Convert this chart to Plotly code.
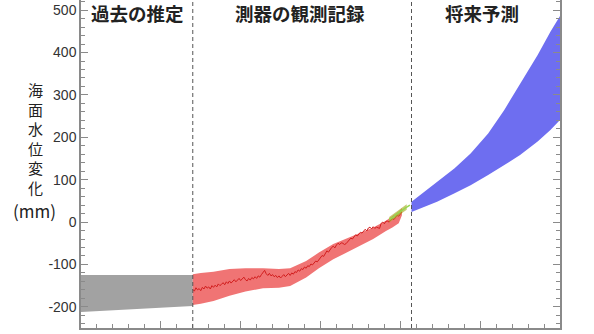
import plotly.graph_objects as go

# ---- data -------------------------------------------------------------
# Pre-instrumental estimate (grey band)
past_years = [1800, 1870]
past_upper = [-125, -125]
past_lower = [-212, -198]

# Tide-gauge reconstruction: uncertainty envelope
tg_band_years = [1870, 1875, 1883, 1893, 1903, 1914, 1924, 1931, 1941, 1949,
                 1958, 1966, 1974, 1983, 1991, 1995, 1999, 2001]
tg_band_upper = [-123, -120, -117, -111, -109, -109, -111, -109, -92, -72,
                 -52, -40, -28, -13, 3, 13, 25, 33]
tg_band_lower = [-196, -193, -186, -174, -164, -156, -155, -151, -131, -109,
                 -88, -72, -56, -40, -21, -13, -3, 16]

# Tide-gauge reconstruction: annual values
tg_years = list(range(1870, 2002))
tg_values = [
    -159, -163, -155, -160, -157, -162, -154, -158, -151, -156,   # 1870s
    -153, -158, -150, -154, -149, -153, -146, -150, -147, -143,   # 1880s
    -148, -141, -145, -139, -144, -140, -136, -141, -137, -133,   # 1890s
    -138, -134, -130, -136, -139, -133, -137, -131, -134, -129,   # 1900s
    -133, -127, -130, -124, -120, -114, -122, -126, -121, -127,   # 1910s
    -124, -129, -126, -131, -127, -132, -128, -124, -129, -125,   # 1920s
    -121, -126, -120, -123, -117, -119, -113, -116, -110, -112,   # 1930s
    -106, -109, -103, -105, -99, -101, -96, -92, -94, -88,        # 1940s
    -84, -79, -81, -74, -68, -71, -64, -60, -57, -61,             # 1950s
    -54, -50, -53, -49, -50, -53, -51, -47, -42, -38,             # 1960s
    -40, -34, -30, -33, -27, -24, -26, -20, -17, -21,             # 1970s
    -14, -12, -16, -11, -15, -12, -13, -15, -3, 0,                # 1980s
    -4, 2, 2, 0, 5, 8, 6, 12, 16, 14,                             # 1990s
    20, 24,                                                       # 2000s
]

# Satellite altimetry
sat_years = [1993, 1994, 1995, 1996, 1997, 1998, 1999, 2000, 2001, 2002,
             2003, 2004, 2005, 2006]
sat_values = [6, 8, 11, 13, 17, 20, 22, 25, 28, 31, 33, 35, 38, 40]
sat_band_years = [1993, 1996, 1999, 2002, 2004]
sat_band_upper = [12, 20, 29, 38, 42]
sat_band_lower = [-1, 6, 15, 24, 29]

# Model projections (blue band)
proj_years = [2007, 2015, 2023, 2034, 2044, 2055, 2065, 2075, 2086, 2094, 2100]
proj_upper = [48, 72, 95, 127, 162, 209, 264, 327, 394, 449, 486]
proj_lower = [24, 36, 48, 68, 87, 111, 135, 158, 190, 217, 241]

# Period boundaries and headings
boundaries = [1870, 2007]
period_names = ["過去の推定", "測器の観測記録", "将来予測"]
period_centres = [1835.5, 1937, 2051]

y_tick_vals = [-200, -100, 0, 100, 200, 300, 400, 500]
y_tick_text = ["-200", "-100", "0", "100", "200", "300", "400", "500"]
y_title_chars = ["海", "面", "水", "位", "変", "化"]
y_title_unit = "(mm)"

# ---- styling ----------------------------------------------------------
GREY = "rgb(162,162,162)"
RED_FILL = "rgb(240,116,116)"
RED_LINE = "rgb(210,30,30)"
SAT_FILL = "rgba(170,170,40,0.65)"
SAT_LINE = "rgb(150,215,80)"
BLUE = "rgb(110,110,240)"
AXIS = "#8a8a8a"
CJK = "Noto Sans CJK JP"

fig = go.Figure()


def band(xs, lo, hi, color):
    fig.add_trace(go.Scatter(x=xs, y=lo, mode="lines", line=dict(width=0),
                             hoverinfo="skip", showlegend=False))
    fig.add_trace(go.Scatter(x=xs, y=hi, mode="lines", line=dict(width=0),
                             fill="tonexty", fillcolor=color,
                             hoverinfo="skip", showlegend=False))


band(past_years, past_lower, past_upper, GREY)
band(tg_band_years, tg_band_lower, tg_band_upper, RED_FILL)
fig.add_trace(go.Scatter(x=tg_years, y=tg_values, mode="lines",
                         line=dict(color=RED_LINE, width=1),
                         showlegend=False))
band(sat_band_years, sat_band_lower, sat_band_upper, SAT_FILL)
fig.add_trace(go.Scatter(x=sat_years, y=sat_values, mode="lines",
                         line=dict(color=SAT_LINE, width=1.5),
                         showlegend=False))
band(proj_years, proj_lower, proj_upper, BLUE)

for yr in boundaries:
    fig.add_shape(type="line", xref="x", yref="paper", x0=yr, x1=yr,
                  y0=0, y1=1, layer="above",
                  line=dict(color="#555555", width=1, dash="4px,3px"))

for name, cx in zip(period_names, period_centres):
    fig.add_annotation(x=cx, y=494, xref="x", yref="y", text=name,
                       showarrow=False, xanchor="center", yanchor="middle",
                       height=22,
                       font=dict(family=CJK, size=18.5, color="#222222",
                                 weight="bold"))

# vertical axis title: one character per line, unit underneath
fig.add_annotation(x=-0.094, y=198, xref="paper", yref="y",
                   text="<br>".join(y_title_chars), showarrow=False,
                   xanchor="center", yanchor="middle", align="center",
                   font=dict(family=CJK, size=15, color="#222222"))
fig.add_annotation(x=-0.098, y=28, xref="paper", yref="y", text=y_title_unit,
                   showarrow=False, xanchor="center", yanchor="middle",
                   font=dict(family=CJK, size=17, color="#222222"))

fig.update_layout(
    width=594, height=334,
    margin=dict(l=81, r=34, t=0, b=6),
    paper_bgcolor="white", plot_bgcolor="white",
    showlegend=False,
)
fig.update_xaxes(
    range=[1800, 2100], showgrid=False, zeroline=False,
    showline=True, linecolor=AXIS, linewidth=1.5, mirror=False,
    ticks="inside", tickcolor=AXIS, ticklen=7, tickwidth=1,
    tick0=1800, dtick=50, showticklabels=False,
    minor=dict(ticks="inside", dtick=10, ticklen=4, tickcolor=AXIS,
               showgrid=False),
)
fig.update_yaxes(
    range=[-250, 524], showgrid=False, zeroline=False,
    showline=True, linecolor=AXIS, linewidth=1.5, mirror="ticks",
    ticks="inside", tickcolor=AXIS, ticklen=7, tickwidth=1,
    tickvals=y_tick_vals, ticktext=y_tick_text,
    tickfont=dict(family="Liberation Sans", size=14, color="#333333"),
    minor=dict(ticks="inside", dtick=20, tick0=0, ticklen=4,
               tickcolor=AXIS, showgrid=False),
)

fig.write_html("out.html")
